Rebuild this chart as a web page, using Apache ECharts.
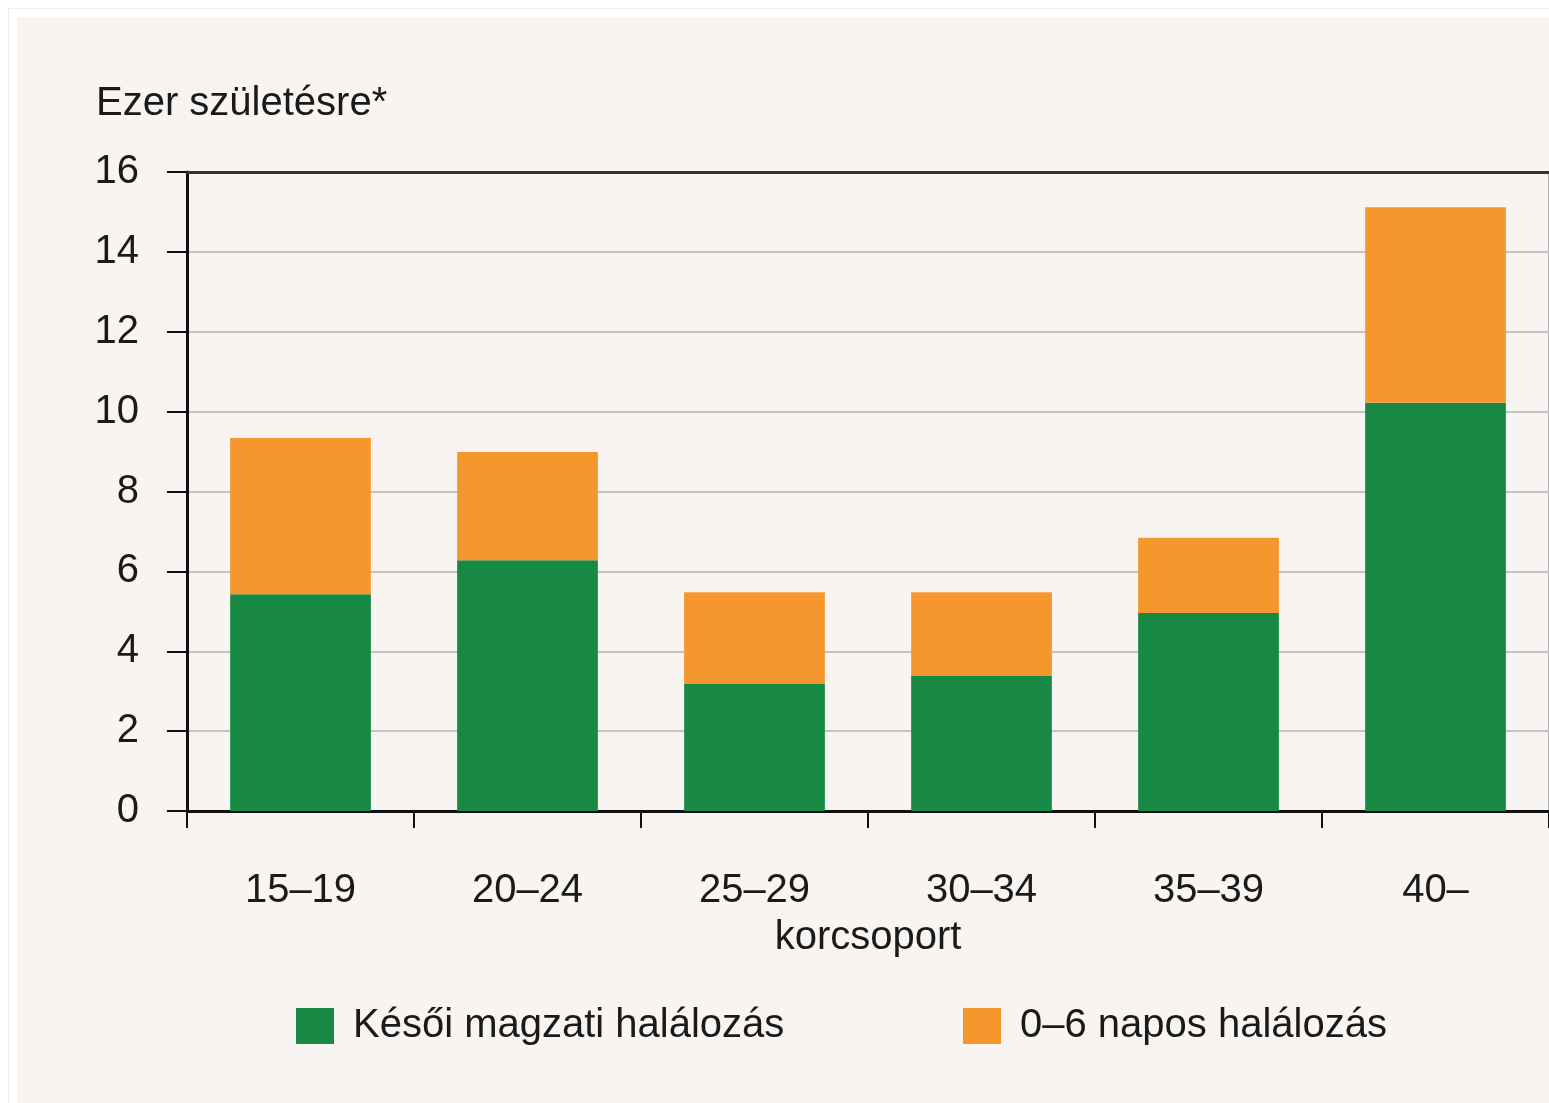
<!DOCTYPE html>
<html><head><meta charset="utf-8">
<script src="https://cdn.jsdelivr.net/npm/echarts@6/dist/echarts.min.js"></script>
<style>
html,body{margin:0;padding:0;background:#fff;}
#frame{position:absolute;left:8px;top:8px;width:1541px;height:1095px;background:#fff;border-left:1px solid #eeeeee;border-top:1px solid #eeeeee;}
#bg{position:absolute;left:17px;top:17px;width:1532px;height:1086px;background:#f8f4f1;}
#main{position:absolute;left:0;top:0;width:1549px;height:1103px;}
</style></head>
<body>
<div id="frame"></div>
<div id="bg"></div>
<div id="main"></div>
<script>
const categories = ['15–19','20–24','25–29','30–34','35–39','40–'];
const lateFetal = [5.43, 6.28, 3.18, 3.38, 4.96, 10.22];
const early0to6 = [3.91, 2.71, 2.30, 2.10, 1.88, 4.90];
const yTicks = {min:0, max:16, interval:2};
const seriesNames = ['Késői magzati halálozás','0–6 napos halálozás'];
const yTitle = 'Ezer születésre*';
const xTitle = 'korcsoport';

const FONT = '"Liberation Sans", Arial, sans-serif';
const FS = 40;
const legendBase = {
  bottom:52, itemWidth:38, itemHeight:36, icon:'rect',
  textStyle:{fontFamily:FONT, fontSize:FS, color:'#1a1a1a', padding:[4,0,0,14]}
};
const chart = echarts.init(document.getElementById('main'), null, {renderer:'canvas'});
chart.setOption({
  backgroundColor:'transparent',
  animation:false,
  title:{text:yTitle, left:91, top:79, textStyle:{fontFamily:FONT, fontSize:FS, fontWeight:'normal', color:'#1a1a1a'}},
  grid:{left:187, top:172, right:0, bottom:292, show:true, borderColor:'#9a9a9a', borderWidth:1.5, backgroundColor:'transparent'},
  legend:[
    Object.assign({}, legendBase, {left:291, data:[seriesNames[0]]}),
    Object.assign({}, legendBase, {left:958, data:[seriesNames[1]]})
  ],
  xAxis:[{
    type:'category', data:categories, position:'bottom',
    name:xTitle, nameLocation:'middle', nameGap:107,
    nameTextStyle:{fontFamily:FONT, fontSize:FS, color:'#1a1a1a'},
    axisLine:{show:true, lineStyle:{color:'#111', width:3}},
    axisTick:{show:true, length:17, lineStyle:{color:'#111', width:2}},
    axisLabel:{fontFamily:FONT, fontSize:FS, color:'#1a1a1a', margin:60},
    splitLine:{show:false}
  },{
    type:'category', data:categories, position:'top',
    axisLine:{show:true, lineStyle:{color:'#333', width:3}},
    axisTick:{show:false}, axisLabel:{show:false}, splitLine:{show:false}
  }],
  yAxis:{
    type:'value', min:yTicks.min, max:yTicks.max, interval:yTicks.interval,
    axisLine:{show:true, lineStyle:{color:'#111', width:3}},
    axisTick:{show:true, length:20, lineStyle:{color:'#111', width:2}},
    axisLabel:{fontFamily:FONT, fontSize:FS, color:'#1a1a1a', margin:48, padding:[8,0,0,0]},
    splitLine:{show:true, lineStyle:{color:'#c4c4c8', width:2}}
  },
  series:[
    {name:seriesNames[0], type:'bar', stack:'t', data:lateFetal, barCategoryGap:'38%', itemStyle:{color:'#178944'}},
    {name:seriesNames[1], type:'bar', stack:'t', data:early0to6, barCategoryGap:'38%', itemStyle:{color:'#f6972e'}}
  ]
});
</script>
</body></html>
